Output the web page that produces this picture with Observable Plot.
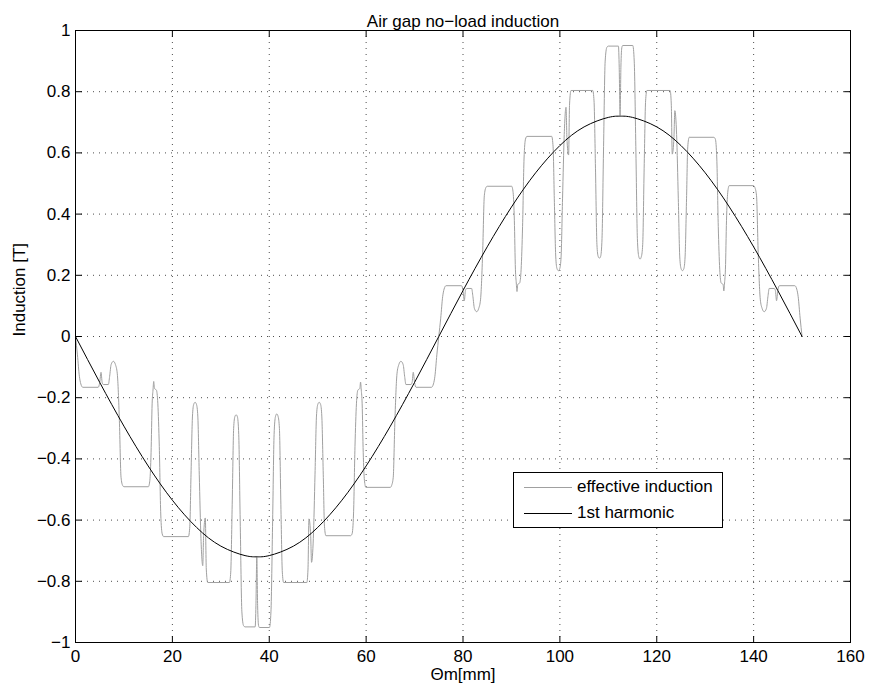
<!DOCTYPE html>
<html><head><meta charset="utf-8">
<script src="https://cdn.jsdelivr.net/npm/d3@7"></script>
<script src="https://cdn.jsdelivr.net/npm/@observablehq/plot@0.6"></script>
<style>
body{margin:0;background:#fff;}
#wrap{position:relative;width:869px;height:692px;font-family:"Liberation Sans",Arial,Helvetica,sans-serif;}
#legend{position:absolute;left:513px;top:472px;width:210px;height:56px;box-sizing:border-box;border:1px solid #000;background:#fff;font-size:17px;color:#000;}
.sw{position:absolute;left:10px;width:48px;height:0;border-top:1px solid;}
.lt{position:absolute;left:63px;height:20px;line-height:20px;white-space:nowrap;}
</style></head><body><div id="wrap"></div>
<script>
const xTicks = [0, 20, 40, 60, 80, 100, 120, 140, 160];
const xTickLabels = ["0", "20", "40", "60", "80", "100", "120", "140", "160"];
const yTicks = [-1, -0.8, -0.6, -0.4, -0.2, 0, 0.2, 0.4, 0.6, 0.8, 1];
const yTickLabels = ["\u22121", "\u22120.8", "\u22120.6", "\u22120.4", "\u22120.2", "0", "0.2", "0.4", "0.6", "0.8", "1"];
const seriesNames = ["effective induction", "1st harmonic"];
const seriesColors = ["#a0a0a0", "#000000"];

// effective induction, first half (0..75 mm)
const effX1 = [0,0.4,0.8,1.1,1.5,4.7,5.0,5.27,5.5,5.75,6.78,7.05,7.35,7.82,8.25,8.63,9.06,9.4,9.74,10.0,
15.05,15.35,15.6,15.82,16.0,16.15,16.3,16.7,17.0,17.3,17.6,17.9,18.2,
23.31,23.6,23.85,24.15,24.4,24.69,24.98,25.25,25.55,25.9,26.27,26.45,26.8,27.0,27.3,
31.78,32.05,32.35,32.65,32.9,33.16,33.42,33.7,34.0,34.35,34.7,35.0,
37.09,37.25,37.43,37.6,37.8,37.98,
40.05,40.35,40.7,41.0,41.28,41.55,41.84,42.1,42.4,42.7,42.97,
47.76,48.0,48.2,48.55,48.73,49.1,49.45,49.75,50.02,50.31,50.6,50.85,51.15,51.4,51.7,
56.8,57.1,57.4,57.7,58.0,58.3,58.7,58.85,59.0,59.18,59.4,59.65,59.95,
65.0,65.26,65.6,65.94,66.37,66.75,67.18,67.65,67.95,68.22,69.25,69.5,69.73,70.0,70.3,
73.5,73.9,74.2,74.6,75.0];
const effY1 = [0,-0.06,-0.13,-0.155,-0.166,-0.166,-0.15,-0.117,-0.15,-0.157,-0.157,-0.13,-0.092,-0.081,-0.092,-0.122,-0.275,-0.46,-0.487,-0.491,
-0.491,-0.47,-0.38,-0.22,-0.175,-0.147,-0.17,-0.175,-0.22,-0.36,-0.58,-0.645,-0.654,
-0.654,-0.62,-0.45,-0.26,-0.222,-0.215,-0.222,-0.26,-0.45,-0.66,-0.749,-0.65,-0.593,-0.76,-0.804,
-0.804,-0.77,-0.55,-0.3,-0.262,-0.256,-0.262,-0.32,-0.6,-0.9,-0.945,-0.949,
-0.949,-0.88,-0.722,-0.88,-0.945,-0.951,
-0.951,-0.9,-0.6,-0.32,-0.262,-0.253,-0.262,-0.3,-0.55,-0.77,-0.804,
-0.804,-0.76,-0.596,-0.65,-0.738,-0.66,-0.45,-0.26,-0.222,-0.215,-0.222,-0.26,-0.45,-0.62,-0.651,
-0.651,-0.645,-0.58,-0.36,-0.22,-0.175,-0.17,-0.149,-0.175,-0.22,-0.38,-0.47,-0.493,
-0.493,-0.487,-0.46,-0.275,-0.122,-0.092,-0.081,-0.092,-0.13,-0.157,-0.157,-0.15,-0.117,-0.15,-0.166,
-0.166,-0.155,-0.13,-0.06,0];

// effective induction, second half (75..150 mm)
const effX2 = [75.4,75.8,76.1,76.5,79.7,80.0,80.27,80.5,80.75,81.78,82.05,82.35,82.82,83.25,83.63,84.06,84.4,84.74,85.0,
90.05,90.35,90.6,90.82,91.0,91.15,91.3,91.7,92.0,92.3,92.6,92.9,93.2,
98.31,98.6,98.85,99.15,99.4,99.69,99.98,100.25,100.55,100.9,101.27,101.45,101.8,102.0,102.3,
106.78,107.05,107.35,107.65,107.9,108.16,108.42,108.7,109.0,109.35,109.7,110.0,
112.09,112.25,112.43,112.6,112.8,112.98,
115.05,115.35,115.7,116.0,116.28,116.55,116.84,117.1,117.4,117.7,117.97,
122.76,123.0,123.2,123.55,123.73,124.1,124.45,124.75,125.02,125.31,125.6,125.85,126.15,126.4,126.7,
131.8,132.1,132.4,132.7,133.0,133.3,133.7,133.85,134.0,134.18,134.4,134.65,134.95,
140.0,140.26,140.6,140.94,141.37,141.75,142.18,142.65,142.95,143.22,144.25,144.5,144.73,145.0,145.3,
148.5,148.9,149.2,149.6,150.0];
const effY2 = [0.06,0.13,0.155,0.166,0.166,0.15,0.117,0.15,0.157,0.157,0.13,0.092,0.081,0.092,0.122,0.275,0.46,0.487,0.491,
0.491,0.47,0.38,0.22,0.175,0.147,0.17,0.175,0.22,0.36,0.58,0.645,0.654,
0.654,0.62,0.45,0.26,0.222,0.215,0.222,0.26,0.45,0.66,0.749,0.65,0.593,0.76,0.804,
0.804,0.77,0.55,0.3,0.262,0.256,0.262,0.32,0.6,0.9,0.945,0.949,
0.949,0.88,0.722,0.88,0.945,0.951,
0.951,0.9,0.6,0.32,0.262,0.253,0.262,0.3,0.55,0.77,0.804,
0.804,0.76,0.596,0.65,0.738,0.66,0.45,0.26,0.222,0.215,0.222,0.26,0.45,0.62,0.651,
0.651,0.645,0.58,0.36,0.22,0.175,0.17,0.149,0.175,0.22,0.38,0.47,0.493,
0.493,0.487,0.46,0.275,0.122,0.092,0.081,0.092,0.13,0.157,0.157,0.15,0.117,0.15,0.166,
0.166,0.155,0.13,0.06,0];

// 1st harmonic
const harmX = [0,5,10,15,20,25,30,35,37.5,40,45,50,55,60,65,70,75,80,85,90,95,100,105,110,112.5,115,120,125,130,135,140,145,150];
const harmY = [0,-0.150,-0.293,-0.423,-0.535,-0.624,-0.685,-0.716,-0.72,-0.716,-0.685,-0.624,-0.535,-0.423,-0.293,-0.150,0,
0.150,0.293,0.423,0.535,0.624,0.685,0.716,0.72,0.716,0.685,0.624,0.535,0.423,0.293,0.150,0];

const effData = effX1.map((x, i) => ({x, y: effY1[i]})).concat(effX2.map((x, i) => ({x, y: effY2[i]})));
const harmData = harmX.map((x, i) => ({x, y: harmY[i]}));

const tickShape = {draw(ctx, l) { ctx.moveTo(0, 0); ctx.lineTo(0, -l); }};
const tickOpts = {length: 6, anchor: "start", shape: tickShape, stroke: "#000", strokeWidth: 1};
const gridOpts = {stroke: "#000", strokeOpacity: 0.7, strokeDasharray: "1,5"};

const chart = Plot.plot({
  width: 869, height: 692,
  marginLeft: 75, marginRight: 19, marginTop: 30, marginBottom: 50,
  x: {domain: [0, 160]},
  y: {domain: [-1, 1]},
  style: {fontFamily: "'Liberation Sans', Arial, Helvetica, sans-serif", fontSize: "17px", color: "#000", background: "#fff", overflow: "visible"},
  marks: [
    Plot.gridX(xTicks, gridOpts),
    Plot.gridY(yTicks, gridOpts),
    Plot.line(effData, {x: "x", y: "y", stroke: seriesColors[0], strokeWidth: 1, curve: "monotone-x"}),
    Plot.line(harmData, {x: "x", y: "y", stroke: seriesColors[1], strokeWidth: 1, curve: "natural"}),
    Plot.frame({stroke: "#000", strokeWidth: 1}),
    Plot.vector(xTicks, {x: d => d, frameAnchor: "bottom", rotate: 0, ...tickOpts}),
    Plot.vector(xTicks, {x: d => d, frameAnchor: "top", rotate: 180, ...tickOpts}),
    Plot.vector(yTicks, {y: d => d, frameAnchor: "left", rotate: 90, ...tickOpts}),
    Plot.vector(yTicks, {y: d => d, frameAnchor: "right", rotate: -90, ...tickOpts}),
    Plot.axisX(xTicks, {anchor: "bottom", tickSize: 0, tickPadding: 7, label: null, tickFormat: d => xTickLabels[xTicks.indexOf(d)]}),
    Plot.axisY(yTicks, {anchor: "left", tickSize: 0, tickPadding: 5, label: null, tickFormat: d => yTickLabels[yTicks.indexOf(d)]}),
    Plot.text(["Air gap no\u2212load induction"], {frameAnchor: "top", dy: -16}),
    Plot.text(["Induction [T]"], {frameAnchor: "left", dx: -56, rotate: -90}),
    Plot.text(["\u0398m[mm]"], {frameAnchor: "bottom", dy: 37})
  ]
});
const wrap = document.getElementById("wrap");
wrap.appendChild(chart);

const legend = document.createElement("div");
legend.id = "legend";
const rowTops = [14, 40];
seriesNames.forEach((name, i) => {
  const sw = document.createElement("div");
  sw.className = "sw";
  sw.style.top = rowTops[i] + "px";
  sw.style.borderTopColor = seriesColors[i];
  legend.appendChild(sw);
  const t = document.createElement("div");
  t.className = "lt";
  t.style.top = (rowTops[i] - 10) + "px";
  t.textContent = name;
  legend.appendChild(t);
});
wrap.appendChild(legend);
</script></body></html>
